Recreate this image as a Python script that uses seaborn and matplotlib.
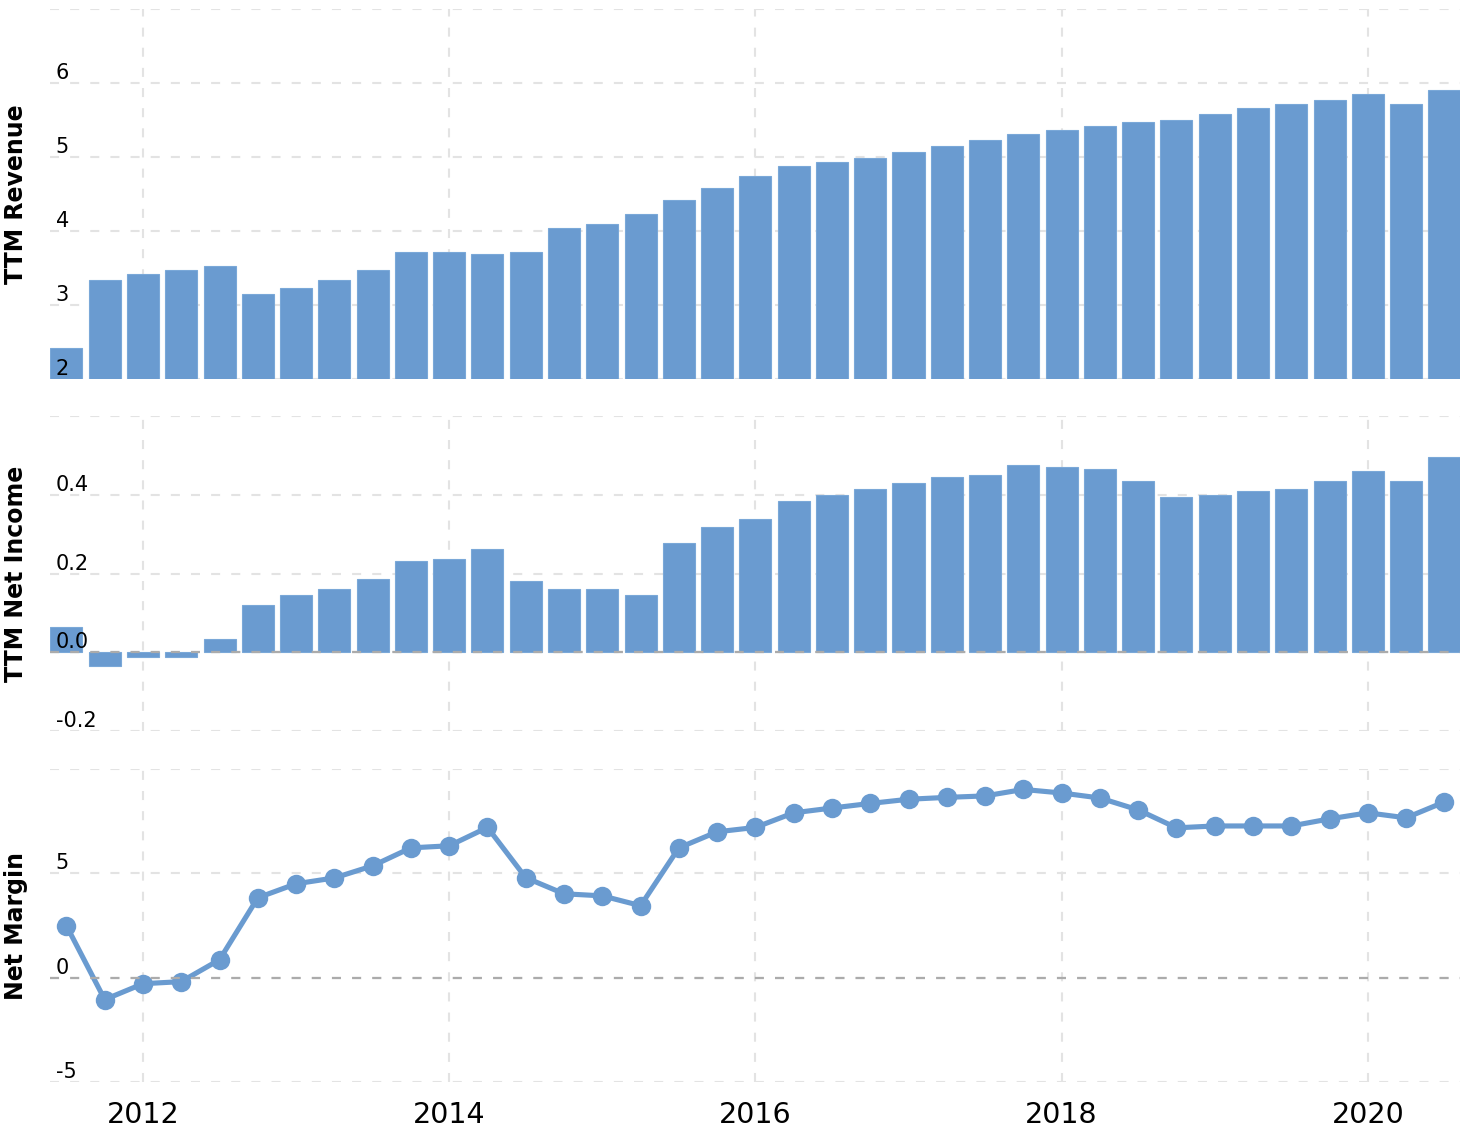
import matplotlib
matplotlib.use("Agg")
import matplotlib.pyplot as plt
import seaborn as sns
import pandas as pd
import numpy as np

# ---- data ----
quarters = ["2011Q3", "2011Q4",
            "2012Q1", "2012Q2", "2012Q3", "2012Q4",
            "2013Q1", "2013Q2", "2013Q3", "2013Q4",
            "2014Q1", "2014Q2", "2014Q3", "2014Q4",
            "2015Q1", "2015Q2", "2015Q3", "2015Q4",
            "2016Q1", "2016Q2", "2016Q3", "2016Q4",
            "2017Q1", "2017Q2", "2017Q3", "2017Q4",
            "2018Q1", "2018Q2", "2018Q3", "2018Q4",
            "2019Q1", "2019Q2", "2019Q3", "2019Q4",
            "2020Q1", "2020Q2", "2020Q3"]

ttm_revenue = [2.42, 3.34, 3.42, 3.47, 3.53, 3.15, 3.23, 3.34, 3.47, 3.72,
               3.72, 3.69, 3.72, 4.04, 4.09, 4.23, 4.42, 4.58, 4.74, 4.88,
               4.93, 4.99, 5.07, 5.15, 5.23, 5.31, 5.36, 5.42, 5.47, 5.50,
               5.58, 5.66, 5.71, 5.77, 5.85, 5.71, 5.91]

ttm_net_income = [0.064, -0.036, -0.013, -0.013, 0.033, 0.119, 0.145, 0.160, 0.185, 0.231,
                  0.236, 0.262, 0.180, 0.160, 0.160, 0.145, 0.277, 0.317, 0.338, 0.384,
                  0.399, 0.414, 0.429, 0.444, 0.450, 0.475, 0.470, 0.465, 0.434, 0.394,
                  0.399, 0.409, 0.414, 0.434, 0.460, 0.434, 0.495]

net_margin = [2.49, -1.05, -0.29, -0.19, 0.86, 3.83, 4.50, 4.78, 5.36, 6.22,
              6.32, 7.20, 4.79, 4.02, 3.92, 3.45, 6.22, 6.99, 7.20, 7.90,
              8.13, 8.35, 8.55, 8.64, 8.71, 9.02, 8.85, 8.61, 8.04, 7.18,
              7.27, 7.27, 7.27, 7.61, 7.90, 7.66, 8.42]

year_ticks = [2012, 2014, 2016, 2018, 2020]
rev_ticks = [2, 3, 4, 5, 6, 7]
rev_labels = ["2", "3", "4", "5", "6", ""]
ni_ticks = [-0.2, 0.0, 0.2, 0.4, 0.6]
ni_labels = ["-0.2", "0.0", "0.2", "0.4", ""]
nm_ticks = [-5, 0, 5, 10]
nm_labels = ["-5", "0", "5", ""]

# decimal year position of each quarter (start of quarter)
xpos = [int(q[:4]) + (int(q[-1]) - 1) * 0.25 for q in quarters]
df = pd.DataFrame({"x": xpos, "rev": ttm_revenue, "ni": ttm_net_income, "nm": net_margin})

BLUE = "#6A9BD0"
GRID = "#E3E3E3"
ZERO = "#ABABAB"

sns.set_theme(style="white")
plt.rcParams["font.family"] = ["DejaVu Sans"]
plt.rcParams["lines.scale_dashes"] = False

fig = plt.figure(figsize=(14.68, 11.28), dpi=100)
W, H = 1468.0, 1128.0
L, R = 50 / W, 1460 / W

def rect(top, bottom):
    return [L, 1 - bottom / H, R - L, (bottom - top) / H]

rects = [rect(9, 379), rect(416, 731), rect(769, 1082)]
ax1 = fig.add_axes(rects[0])
ax2 = fig.add_axes(rects[1])
ax3 = fig.add_axes(rects[2])

sns.barplot(data=df, x="x", y="rev", native_scale=True, width=0.837, color=BLUE,
            saturation=1, errorbar=None, ax=ax1, edgecolor="#7AA8D8", linewidth=0.8)
sns.barplot(data=df, x="x", y="ni", native_scale=True, width=0.837, color=BLUE,
            saturation=1, errorbar=None, ax=ax2, edgecolor="#7AA8D8", linewidth=0.8)
sns.lineplot(data=df, x="x", y="nm", ax=ax3, color=BLUE, linewidth=3.7,
             marker="o", markersize=14, markeredgewidth=0, zorder=3)

dash = (0, (6.5, 8))
xlim = (2011.3926, 2020.602)
specs = [(ax1, (2, 7), rev_ticks, rev_labels, "TTM Revenue", None),
         (ax2, (-0.2, 0.6), ni_ticks, ni_labels, "TTM Net Income", 0.0),
         (ax3, (-5, 10), nm_ticks, nm_labels, "Net Margin", 0.0)]

for i, (ax, ylim, ticks, labels, ylabel, zero) in enumerate(specs):
    ax.set_xlim(*xlim)
    ax.set_ylim(*ylim)
    ax.set_yticks(ticks)
    ax.set_xticks(year_ticks)
    ax.set_axisbelow(True)
    ax.grid(True, color=GRID, linestyle=dash, linewidth=1.5)
    for s in ax.spines.values():
        s.set_visible(False)
    ax.tick_params(axis="y", length=0, labelleft=False)
    ax.set_ylabel(ylabel, fontsize=17, fontweight="bold", color="black")
    ax.yaxis.set_label_coords(-0.0155, 0.5)
    ax.set_xlabel("")
    if zero is not None:
        ax.axhline(zero, color=ZERO, linestyle=dash, linewidth=1.6, zorder=4)

    # overlay axes carrying the y tick labels above the marks
    ov = fig.add_axes(rects[i], sharex=ax, sharey=ax)
    ov.patch.set_visible(False)
    ov.grid(False)
    for s in ov.spines.values():
        s.set_visible(False)
    ov.set_yticks(ticks)
    ov.set_yticklabels(labels)
    ov.tick_params(axis="y", length=0, pad=-4, labelsize=15, labelcolor="black")
    ov.tick_params(axis="x", length=0, labelbottom=False)
    for lab in ov.get_yticklabels():
        lab.set_horizontalalignment("left")
        lab.set_verticalalignment("bottom")
    ov.set_ylabel("")
    ov.set_xlabel("")

for ax in (ax1, ax2):
    ax.tick_params(axis="x", length=0, labelbottom=False)

ax3.tick_params(axis="x", length=0, pad=14, labelsize=20.5, labelcolor="black")
ax3.set_xticklabels([str(y) for y in year_ticks])

fig.savefig("out.png", dpi=100, facecolor="white")
